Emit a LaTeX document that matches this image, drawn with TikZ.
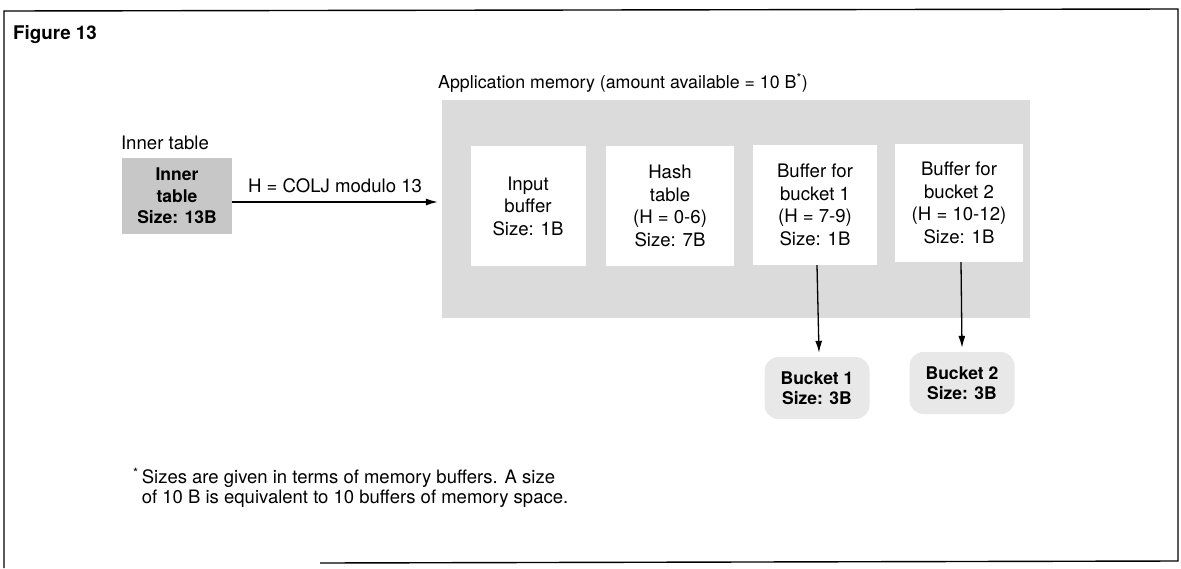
\documentclass[tikz,border=0pt]{standalone}
\usepackage{fontspec}
\setmainfont{TeX Gyre Heros}
\usetikzlibrary{arrows.meta}
\tikzset{
  txt/.style={inner sep=0pt, align=center, font=\fontsize{18.6}{22.5}\selectfont},
  memregion/.style={fill=black!14, draw=none},
  whitebox/.style={fill=white, draw=none, txt},
  innerbox/.style={fill=black!22, draw=none, txt, font=\fontsize{17.5}{21.5}\selectfont},
  bucketblob/.style={fill=black!9, draw=none, rounded corners=14pt, txt, font=\fontsize{17.5}{20}\selectfont},
  arr/.style={line width=1.3pt, -{Latex[length=12pt,width=7pt]}},
  frameline/.style={line width=1.4pt}
}
\begin{document}
\begin{tikzpicture}[x=1pt,y=-1pt]
\useasboundingbox (0,0) rectangle (1181,568);
% frame
\coordinate (fbl) at (4,568);
\coordinate (ftl) at (4,11);
\coordinate (ftr) at (1178,9);
\coordinate (fbr) at (1178,561);
\coordinate (fbs) at (320,563);
\draw[frameline] (fbl) -- (ftl) -- (ftr) -- (fbr) -- (fbs);
\node[txt, anchor=west, font=\fontsize{18.8}{22}\selectfont\bfseries] (fig) at (13,35) {Figure 13};
% inner table
\node[txt] (innerlbl) at (165,143) {Inner table};
\node[innerbox, minimum width=110pt, minimum height=76pt] (inner) at (177,196) {\bfseries Inner\\\bfseries table\\\bfseries Size: 13B};
% memory region
\node[memregion, minimum width=588pt, minimum height=218pt] (mem) at (736,209) {};
\node[txt, anchor=west, font=\fontsize{17.8}{22}\selectfont] (memlbl) at (438,83) {Application memory (amount available = 10 B\textsuperscript{*})};
\node[whitebox, minimum width=115pt, minimum height=120pt] (inbuf) at (528,206) {Input\\buffer\\Size: 1B};
\node[whitebox, minimum width=128pt, minimum height=120pt] (hash) at (670,206) {Hash\\table\\(H = 0-6)\\Size: 7B};
\node[whitebox, minimum width=124pt, minimum height=120pt] (buf1) at (815,205) {Buffer for\\bucket 1\\(H = 7-9)\\Size: 1B};
\node[whitebox, minimum width=128pt, minimum height=118pt] (buf2) at (959,203) {Buffer for\\bucket 2\\(H = 10-12)\\Size: 1B};
% buckets
\node[bucketblob, minimum width=105pt, minimum height=62pt] (bk1) at (817,388) {\bfseries Bucket 1\\\bfseries Size: 3B};
\node[bucketblob, minimum width=105pt, minimum height=62pt] (bk2) at (962,383) {\bfseries Bucket 2\\\bfseries Size: 3B};
% connectors
\draw[arr] ([yshift=-6pt]inner.east) -- node[txt, above=9pt] (hlbl) {H = COLJ modulo 13} ([yshift=-6pt,xshift=-4pt]inner.east -| mem.west);
\draw[arr] ([xshift=2pt]buf1.south) -- ([xshift=2pt,yshift=4pt]bk1.north);
\draw[arr] ([xshift=2pt]buf2.south) -- ([yshift=4pt]bk2.north);
% footnote
\node[txt, anchor=north west, align=left, font=\fontsize{18.5}{20}\selectfont] (fn) at (133,468) {\textsuperscript{*}\,Sizes are given in terms of memory buffers. A size\\\hphantom{\textsuperscript{*}\,}of 10 B is equivalent to 10 buffers of memory space.};
\end{tikzpicture}
\end{document}
